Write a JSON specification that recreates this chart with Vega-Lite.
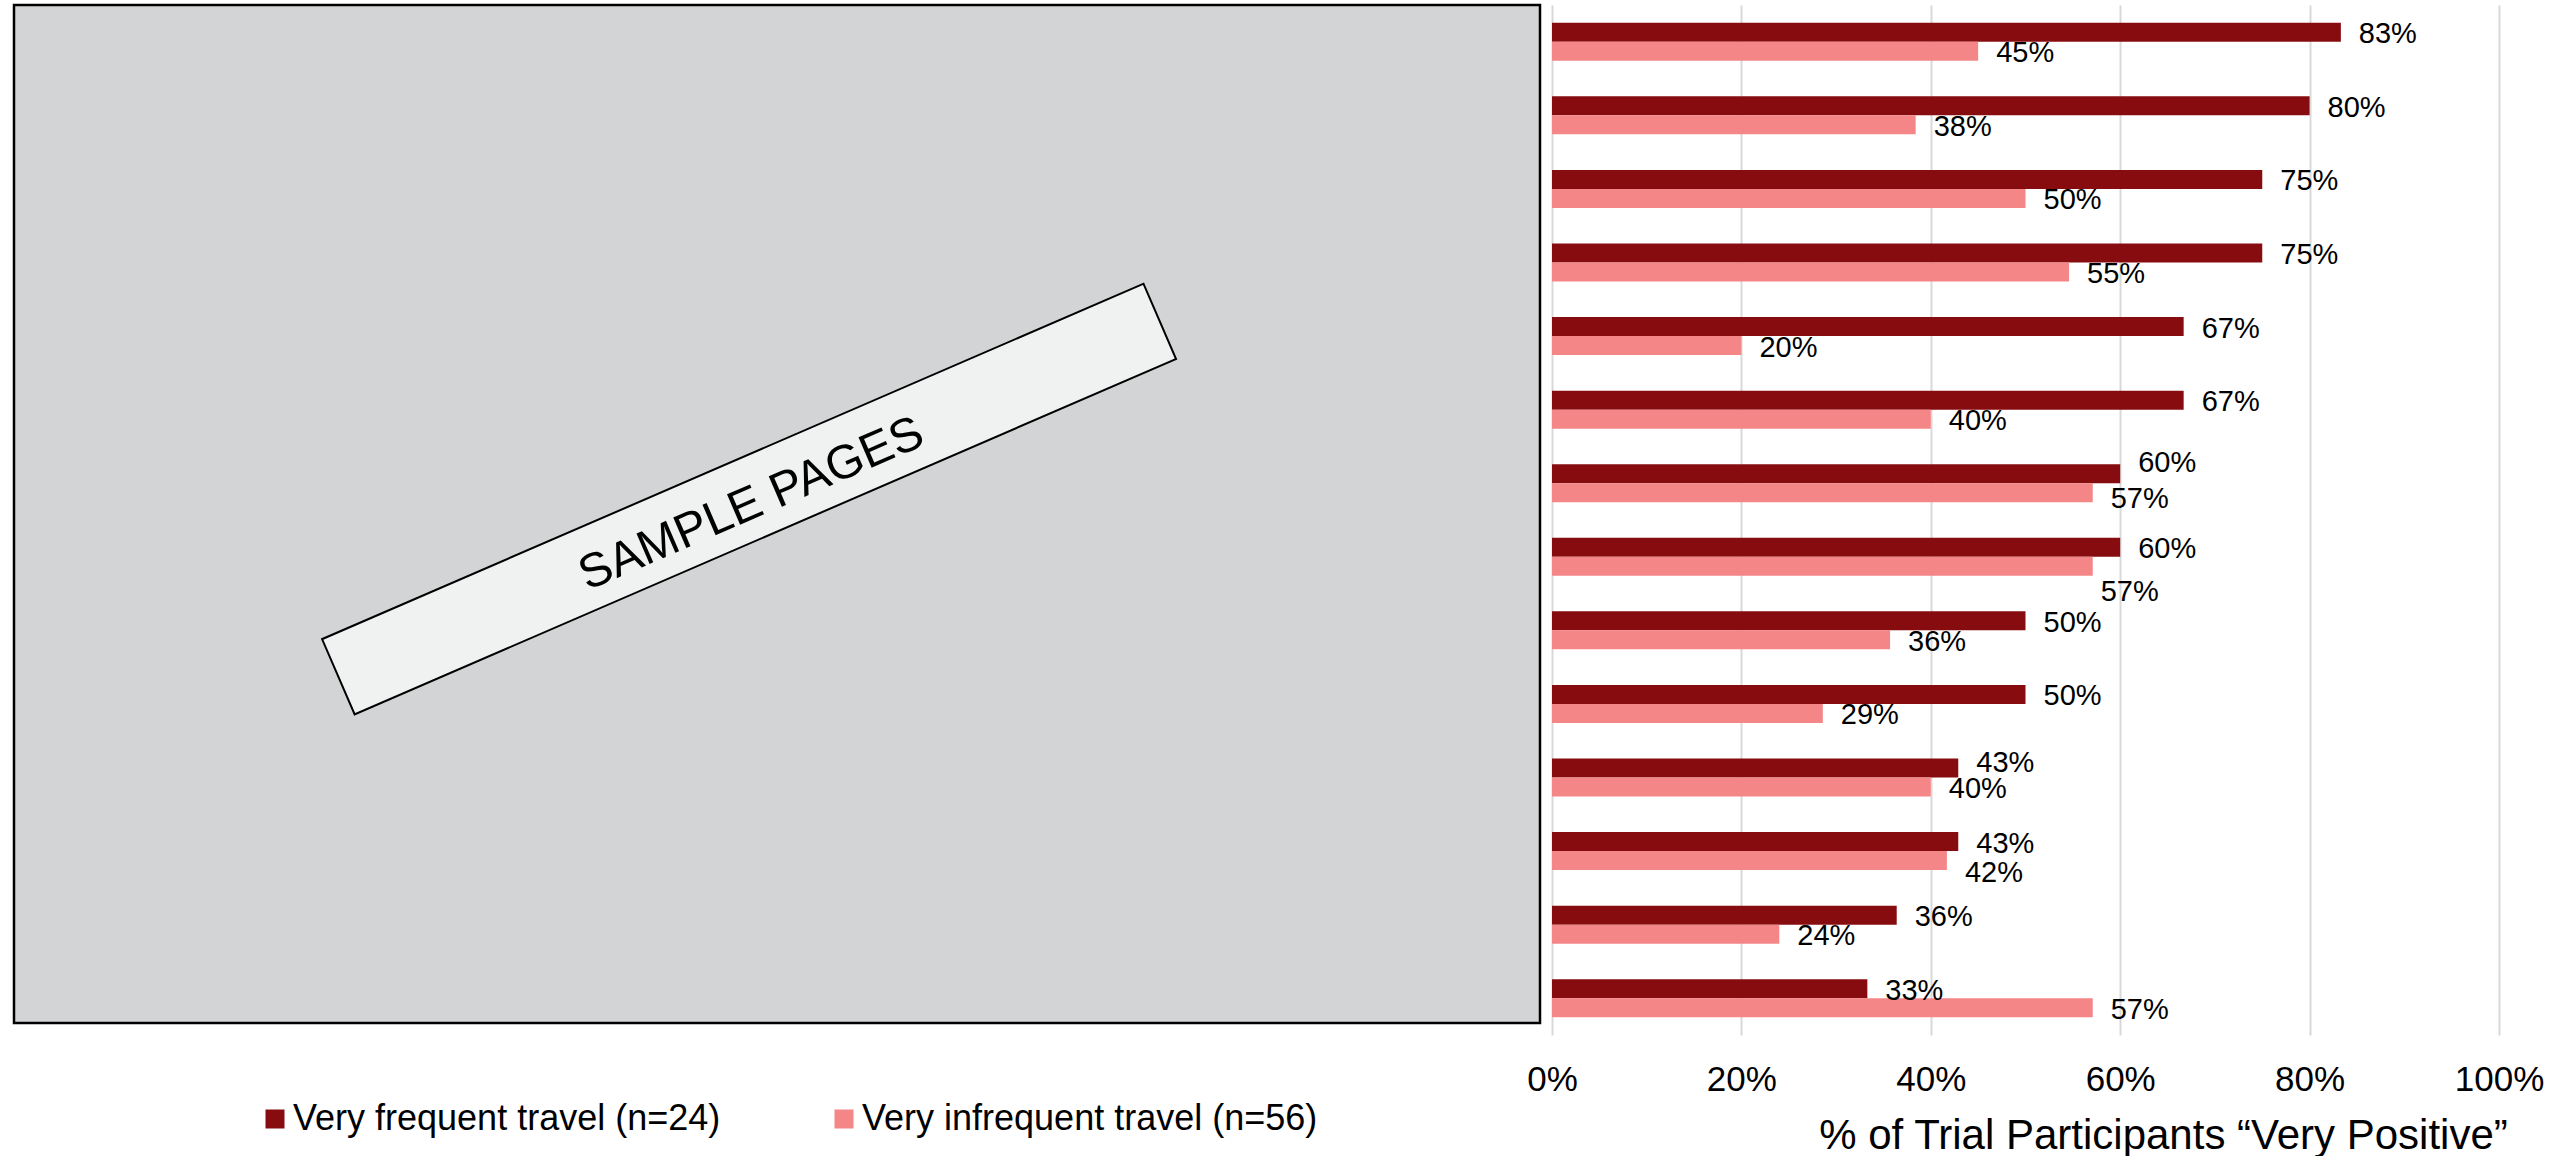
{
  "$schema": "https://vega.github.io/schema/vega-lite/v6.json",
  "padding": {"left": 12, "top": 3, "right": 0, "bottom": 0},
  "background": "#ffffff",
  "config": {"font": "Liberation Sans"},
  "bounds": "flush",
  "spacing": 12,
  "datasets": {
    "bars": [
      {"item": "Item 1", "series": "Very frequent travel (n=24)", "value": 0.833},
      {"item": "Item 1", "series": "Very infrequent travel (n=56)", "value": 0.450},
      {"item": "Item 2", "series": "Very frequent travel (n=24)", "value": 0.800},
      {"item": "Item 2", "series": "Very infrequent travel (n=56)", "value": 0.384},
      {"item": "Item 3", "series": "Very frequent travel (n=24)", "value": 0.750},
      {"item": "Item 3", "series": "Very infrequent travel (n=56)", "value": 0.500},
      {"item": "Item 4", "series": "Very frequent travel (n=24)", "value": 0.750},
      {"item": "Item 4", "series": "Very infrequent travel (n=56)", "value": 0.546},
      {"item": "Item 5", "series": "Very frequent travel (n=24)", "value": 0.667},
      {"item": "Item 5", "series": "Very infrequent travel (n=56)", "value": 0.200},
      {"item": "Item 6", "series": "Very frequent travel (n=24)", "value": 0.667},
      {"item": "Item 6", "series": "Very infrequent travel (n=56)", "value": 0.400},
      {"item": "Item 7", "series": "Very frequent travel (n=24)", "value": 0.600},
      {"item": "Item 7", "series": "Very infrequent travel (n=56)", "value": 0.571},
      {"item": "Item 8", "series": "Very frequent travel (n=24)", "value": 0.600},
      {"item": "Item 8", "series": "Very infrequent travel (n=56)", "value": 0.571},
      {"item": "Item 9", "series": "Very frequent travel (n=24)", "value": 0.500},
      {"item": "Item 9", "series": "Very infrequent travel (n=56)", "value": 0.357},
      {"item": "Item 10", "series": "Very frequent travel (n=24)", "value": 0.500},
      {"item": "Item 10", "series": "Very infrequent travel (n=56)", "value": 0.286},
      {"item": "Item 11", "series": "Very frequent travel (n=24)", "value": 0.429},
      {"item": "Item 11", "series": "Very infrequent travel (n=56)", "value": 0.400},
      {"item": "Item 12", "series": "Very frequent travel (n=24)", "value": 0.429},
      {"item": "Item 12", "series": "Very infrequent travel (n=56)", "value": 0.417},
      {"item": "Item 13", "series": "Very frequent travel (n=24)", "value": 0.364},
      {"item": "Item 13", "series": "Very infrequent travel (n=56)", "value": 0.240},
      {"item": "Item 14", "series": "Very frequent travel (n=24)", "value": 0.333},
      {"item": "Item 14", "series": "Very infrequent travel (n=56)", "value": 0.571}
    ],
    "placeholder": [
      {"label": "SAMPLE PAGES"}
    ]
  },
  "hconcat": [
    {
      "width": 1526,
      "height": 1018,
      "view": {"fill": "#d3d4d6", "stroke": "#000000", "strokeWidth": 2.5},
      "data": {"name": "placeholder"},
      "encoding": {
        "x": {"datum": 0.4817, "type": "quantitative", "scale": {"domain": [0, 1], "nice": false, "zero": false}, "axis": null},
        "y": {"datum": 0.5147, "type": "quantitative", "scale": {"domain": [0, 1], "nice": false, "zero": false}, "axis": null}
      },
      "layer": [
        {
          "mark": {
            "type": "point",
            "shape": "M-1,-0.0916L1,-0.0916L1,0.0916L-1,0.0916Z",
            "size": 801025,
            "angle": -23.4,
            "filled": true,
            "fill": "#f0f2f1",
            "stroke": "#000000",
            "strokeWidth": 2,
            "opacity": 1
          }
        },
        {
          "mark": {
            "type": "text",
            "angle": -23.4,
            "align": "center",
            "baseline": "middle",
            "dy": 6,
            "fontSize": 48,
            "font": "Liberation Sans",
            "color": "#000000"
          },
          "encoding": {"text": {"field": "label", "type": "nominal"}}
        }
      ]
    },
    {
      "width": 947,
      "height": 1030,
      "view": {"stroke": null},
      "data": {"name": "bars"},
      "encoding": {
        "y": {
          "field": "item", "type": "nominal", "sort": null, "axis": null,
          "scale": {"paddingInner": 0.4835, "paddingOuter": 0.2417}
        },
        "yOffset": {
          "field": "series", "type": "nominal", "sort": null,
          "scale": {"paddingInner": 0, "paddingOuter": 0}
        },
        "x": {
          "field": "value", "type": "quantitative",
          "scale": {"domain": [0, 1], "nice": false, "zero": true},
          "axis": {
            "values": [0, 0.2, 0.4, 0.6, 0.8, 1],
            "format": ".0%",
            "title": "% of Trial Participants “Very Positive”",
            "titleFont": "Liberation Sans",
            "titleFontSize": 42,
            "titleFontWeight": "normal",
            "titleColor": "#000000",
            "titleX": 611,
            "titleY": 113,
            "titleAlign": "center",
            "titleBaseline": "alphabetic",
            "labelFont": "Liberation Sans",
            "labelFontSize": 35,
            "labelColor": "#000000",
            "labelBaseline": "alphabetic",
            "labelPadding": 55,
            "labelFlush": false,
            "labelOverlap": false,
            "ticks": false,
            "tickSize": 0,
            "domain": false,
            "grid": true,
            "gridColor": "#d9d9d9",
            "gridWidth": 2
          }
        }
      },
      "layer": [
        {
          "mark": {"type": "bar"},
          "encoding": {
            "color": {
              "field": "series", "type": "nominal",
              "scale": {
                "domain": ["Very frequent travel (n=24)", "Very infrequent travel (n=56)"],
                "range": ["#870c10", "#f58687"]
              },
              "legend": {
                "orient": "none",
                "legendX": 243,
                "legendY": 1096,
                "direction": "horizontal",
                "title": null,
                "padding": 0,
                "symbolType": "square",
                "symbolSize": 361,
                "symbolStrokeWidth": 0,
                "symbolOpacity": 1,
                "labelFont": "Liberation Sans",
                "labelFontSize": 36,
                "labelColor": "#000000",
                "labelOffset": 0,
                "labelLimit": 1000,
                "columnPadding": 105
              }
            }
          }
        },
        {
          "transform": [
            {"filter": "!((datum.item === 'Item 7') || (datum.item === 'Item 8' && datum.series === 'Very infrequent travel (n=56)') || (datum.item === 'Item 11' && datum.series === 'Very frequent travel (n=24)') || (datum.item === 'Item 12' && datum.series === 'Very infrequent travel (n=56)'))"}
          ],
          "mark": {"type": "text", "align": "left", "baseline": "middle", "dx": 18, "dy": 2, "fontSize": 29, "font": "Liberation Sans", "color": "#000000"},
          "encoding": {"text": {"field": "value", "type": "quantitative", "format": ".0%"}}
        },
        {
          "transform": [{"filter": "datum.item === 'Item 7' && datum.series === 'Very frequent travel (n=24)'"}],
          "mark": {"type": "text", "align": "left", "baseline": "middle", "dx": 18, "dy": -11, "fontSize": 29, "font": "Liberation Sans", "color": "#000000"},
          "encoding": {"text": {"field": "value", "type": "quantitative", "format": ".0%"}}
        },
        {
          "transform": [{"filter": "datum.item === 'Item 7' && datum.series === 'Very infrequent travel (n=56)'"}],
          "mark": {"type": "text", "align": "left", "baseline": "middle", "dx": 18, "dy": 6, "fontSize": 29, "font": "Liberation Sans", "color": "#000000"},
          "encoding": {"text": {"field": "value", "type": "quantitative", "format": ".0%"}}
        },
        {
          "transform": [{"filter": "datum.item === 'Item 8' && datum.series === 'Very infrequent travel (n=56)'"}],
          "mark": {"type": "text", "align": "left", "baseline": "middle", "dx": 8, "dy": 26, "fontSize": 29, "font": "Liberation Sans", "color": "#000000"},
          "encoding": {"text": {"field": "value", "type": "quantitative", "format": ".0%"}}
        },
        {
          "transform": [{"filter": "datum.item === 'Item 11' && datum.series === 'Very frequent travel (n=24)'"}],
          "mark": {"type": "text", "align": "left", "baseline": "middle", "dx": 18, "dy": -5, "fontSize": 29, "font": "Liberation Sans", "color": "#000000"},
          "encoding": {"text": {"field": "value", "type": "quantitative", "format": ".0%"}}
        },
        {
          "transform": [{"filter": "datum.item === 'Item 12' && datum.series === 'Very infrequent travel (n=56)'"}],
          "mark": {"type": "text", "align": "left", "baseline": "middle", "dx": 18, "dy": 12, "fontSize": 29, "font": "Liberation Sans", "color": "#000000"},
          "encoding": {"text": {"field": "value", "type": "quantitative", "format": ".0%"}}
        }
      ]
    }
  ]
}
